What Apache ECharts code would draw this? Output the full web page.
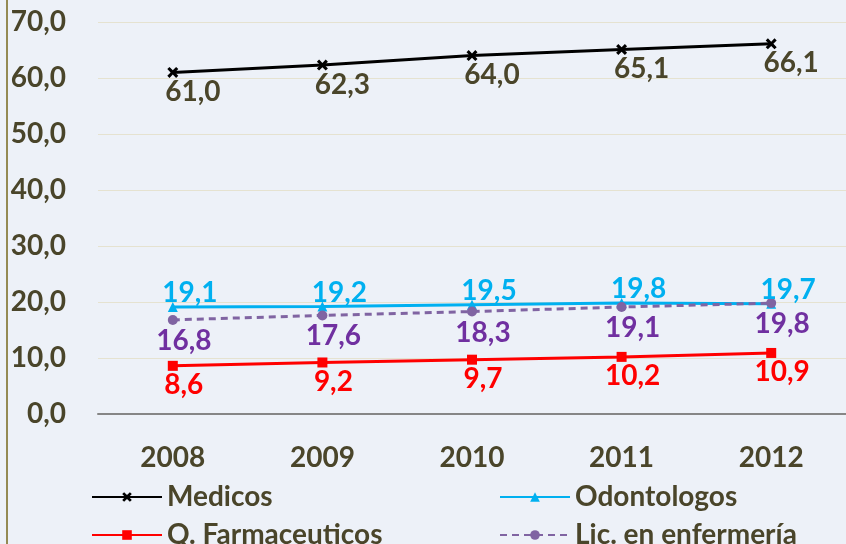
<!DOCTYPE html>
<html>
<head>
<meta charset="UTF-8">
<title></title>
<script src="https://cdn.jsdelivr.net/npm/echarts@6/dist/echarts.min.js"></script>
<style>
    html, body { margin: 0; padding: 0; background: #EDF1F8; }
</style>
</head>
<body>
<div id="chart1" style="width: 846px;height: 544px;"></div>
<script type="text/javascript">
    var years = ['2008', '2009', '2010', '2011', '2012'];
    var medicos = [61.0, 62.3, 64.0, 65.1, 66.1];
    var odontologos = [19.1, 19.2, 19.5, 19.8, 19.7];
    var farmaceuticos = [8.6, 9.2, 9.7, 10.2, 10.9];
    var enfermeria = [16.8, 17.6, 18.3, 19.1, 19.8];

    var chart1 = echarts.init(document.getElementById('chart1'));

    var fontFam = 'Lato';
    var fontW = 'bold';
    var txtColor = '#4A452A';
    // cruz rellena para el marcador de Medicos
    var crossPath = 'path://M2,0 L5,3 L8,0 L10,2 L7,5 L10,8 L8,10 L5,7 L2,10 L0,8 L3,5 L0,2 Z';

    function fmt(p) {
        return p.value.toFixed(1).replace('.', ',');
    }

    function lineSerie(name, data, color, symbol, pos, dist, dx, labelColor, dashed) {
        return {
            name: name,
            type: 'line',
            data: data,
            symbol: symbol,
            symbolSize: symbol == crossPath ? 11 : 10,
            lineStyle: { color: color, width: 3, type: dashed ? [7, 5] : 'solid' },
            itemStyle: { color: color },
            label: {
                show: true,
                position: pos,
                distance: dist,
                offset: [dx, 0],
                formatter: fmt,
                color: labelColor,
                fontFamily: fontFam,
                fontWeight: fontW,
                fontSize: 28
            },
            animation: false
        };
    }

    function legendAt(name, left, top) {
        return {
            data: [name],
            left: left,
            top: top,
            itemWidth: 70,
            itemHeight: 12,
            itemGap: 0,
            textStyle: { color: txtColor, fontFamily: fontFam, fontWeight: fontW, fontSize: 28 }
        };
    }

    var option = {
        backgroundColor: '#EDF1F8',
        grid: { left: 98, top: 22, width: 774, height: 392, containLabel: false },
        legend: [
            legendAt('Medicos', 86, 478),
            legendAt('Odontologos', 494, 478),
            legendAt('Q. Farmaceuticos', 86, 516),
            legendAt('Lic. en enfermería', 494, 516)
        ],
        xAxis: {
            type: 'category',
            data: years,
            boundaryGap: true,
            axisLine: { lineStyle: { color: '#868686', width: 2 } },
            axisTick: { show: false },
            axisLabel: { color: txtColor, fontFamily: fontFam, fontWeight: fontW, fontSize: 28, margin: 30 }
        },
        yAxis: {
            type: 'value',
            min: 0,
            max: 70,
            interval: 10,
            axisLine: { show: false },
            axisTick: { show: false },
            splitLine: { lineStyle: { color: '#E5E2D0', width: 1 } },
            axisLabel: {
                color: txtColor, fontFamily: fontFam, fontWeight: fontW, fontSize: 28, margin: 32,
                formatter: function (v) { return v.toFixed(1).replace('.', ','); }
            }
        },
        graphic: [
            { type: 'line', shape: { x1: 7, y1: 0, x2: 7, y2: 544 }, style: { stroke: '#948A54', lineWidth: 2 } }
        ],
        series: [
            lineSerie('Medicos', medicos, '#000000', crossPath, 'bottom', 0, 20, txtColor, false),
            lineSerie('Odontologos', odontologos, '#00B0F0', 'triangle', 'top', -5, 17, '#00B0F0', false),
            lineSerie('Q. Farmaceuticos', farmaceuticos, '#FF0000', 'rect', 'bottom', 0, 11, '#FF0000', false),
            lineSerie('Lic. en enfermería', enfermeria, '#8064A2', 'circle', 'bottom', 2, 11, '#7030A0', true)
        ]
    };
    chart1.setOption(option);
</script>
</body>
</html>
